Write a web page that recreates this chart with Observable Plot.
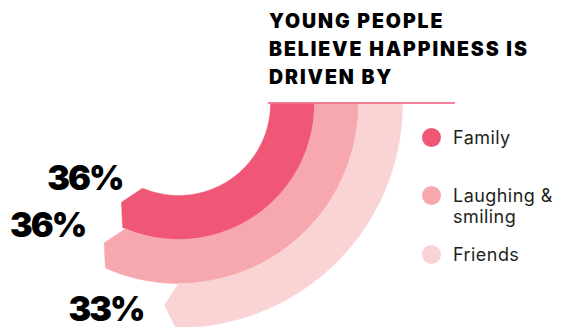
<!DOCTYPE html>
<html>
<head>
<meta charset="utf-8">
<script src="https://cdn.jsdelivr.net/npm/d3@7"></script>
<script src="https://cdn.jsdelivr.net/npm/@observablehq/plot@0.6"></script>
<style>
  html, body { margin: 0; padding: 0; background: #fff; }
  #wrap { position: relative; width: 561px; height: 327px; overflow: hidden; }
  #title { position: absolute; left: 269px; top: 7px; font-family: Inter, "DejaVu Sans", sans-serif;
           font-weight: 900; font-size: 19.5px; line-height: 28px; color: #000; letter-spacing: 1.9px; }
  .leg { position: absolute; left: 422px; font-family: Inter, "Open Sans", sans-serif; font-size: 18px;
         line-height: 21px; color: #231f20; letter-spacing: 0.45px; }
  .leg .dot { position: absolute; left: 0; top: 0; width: 19px; height: 19px; border-radius: 50%; }
  .leg .txt { position: absolute; left: 31px; top: 0; white-space: nowrap; }
  svg { position: absolute; left: 0; top: 0; }
  svg g[aria-label="text"] text { letter-spacing: -2px; }
</style>
</head>
<body>
<div id="wrap"></div>
<script>
// ---- data ----
const categories = ["Family", "Laughing & smiling", "Friends"];
const legendLines = [["Family"], ["Laughing &", "smiling"], ["Friends"]];
const values = [36, 36, 33];
const valueLabels = ["36%", "36%", "33%"];
const titleLines = ["YOUNG PEOPLE", "BELIEVE HAPPINESS IS", "DRIVEN BY"];

// ---- styles / layout ----
const colors = ["#F05777", "#F6A8AE", "#FAD4D5"];
const center = {x: 178, y: 103};
const innerRadius = 92, bandWidth = 44;
const labelOffsets = [[1, -23], [-19, -17], [-21, 5]];
const legendTops = [128, 186, 245];

// value -> sweep angle (clockwise from east)
const angle = d3.scaleLinear().domain([33, 36]).range([90, 113].map(d => d * Math.PI / 180));

const polys = [];
const labelData = [];
categories.forEach((c, i) => {
  const rIn = innerRadius + i * bandWidth, rOut = rIn + bandWidth, rMid = (rIn + rOut) / 2;
  const th = angle(values[i]);
  const pts = [];
  const n = 80;
  for (let k = 0; k <= n; k++) { const t = th * k / n; pts.push([rIn * Math.cos(t), rIn * Math.sin(t)]); }
  const tipA = th + 14 / rMid;
  pts.push([rMid * Math.cos(tipA), rMid * Math.sin(tipA)]);
  const oA = th + 3 / rOut;
  for (let k = n; k >= 0; k--) { const t = oA * k / n; pts.push([rOut * Math.cos(t), rOut * Math.sin(t)]); }
  polys.push(pts.map(([x, y]) => ({x, y, cat: c})));
  labelData.push({x: rMid * Math.cos(tipA), y: rMid * Math.sin(tipA), text: valueLabels[i], dx: labelOffsets[i][0], dy: labelOffsets[i][1]});
});

const W = 561, H = 327;
const marks = [];
polys.forEach((p, i) => marks.push(Plot.line(p, {x: "x", y: "y", fill: colors[i], stroke: colors[i], strokeWidth: 0.5, curve: "linear"})));
marks.push(Plot.ruleY([0], {x1: innerRadius - 2, x2: 277, stroke: colors[0], strokeWidth: 1.5, dy: -0.5}));
labelData.forEach(d => marks.push(Plot.text([d], {x: "x", y: "y", text: "text", dx: d.dx, dy: d.dy,
  textAnchor: "end", fontSize: 34, fontWeight: 900, fontFamily: "Inter, 'DejaVu Sans', sans-serif", fill: "#000"})));

const chart = Plot.plot({
  width: W, height: H, margin: 0,
  x: {domain: [-center.x, W - center.x], axis: null},
  y: {domain: [-center.y, H - center.y], reverse: true, axis: null},
  marks
});

const wrap = document.getElementById("wrap");
wrap.appendChild(chart);

const title = document.createElement("div");
title.id = "title";
title.innerHTML = titleLines.join("<br>");
wrap.appendChild(title);

legendLines.forEach((lines, i) => {
  const g = document.createElement("div");
  g.className = "leg";
  g.style.top = legendTops[i] + "px";
  const dot = document.createElement("div");
  dot.className = "dot";
  dot.style.background = colors[i];
  const t = document.createElement("div");
  t.className = "txt";
  t.style.top = "-1px";
  t.innerHTML = lines.join("<br>");
  g.appendChild(dot); g.appendChild(t);
  wrap.appendChild(g);
});
</script>
</body>
</html>
